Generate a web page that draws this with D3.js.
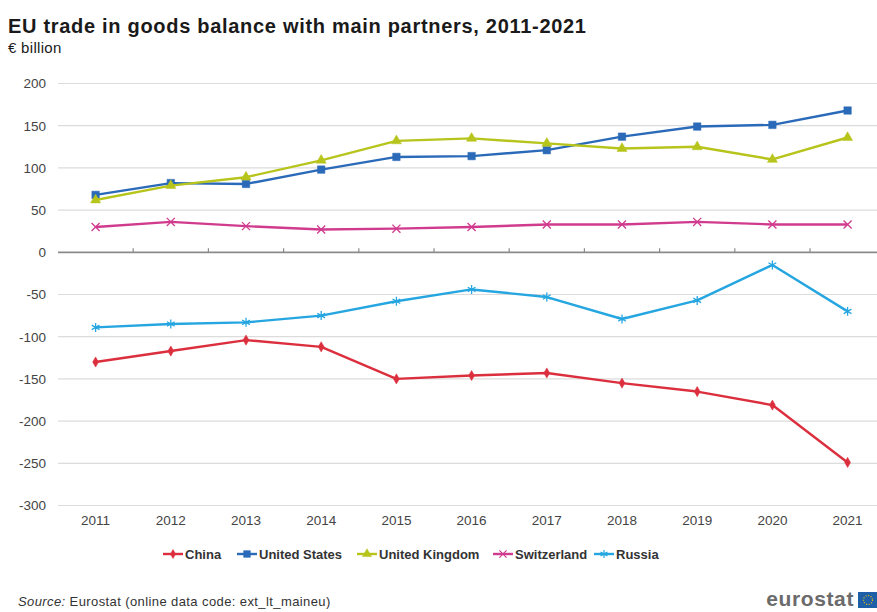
<!DOCTYPE html>
<html>
<head>
<meta charset="utf-8">
<script src="https://cdn.jsdelivr.net/npm/d3@7"></script>
<style>
  html, body { margin: 0; padding: 0; background: #fff; }
  svg { display: block; font-family: "Liberation Sans", Arial, sans-serif; }
</style>
</head>
<body>
<svg id="chart" width="877" height="612"></svg>
<script>
// Years on the category axis
const years = ["2011","2012","2013","2014","2015","2016","2017","2018","2019","2020","2021"];

// Trade in goods balance, € billion
const china       = [-130, -117, -104, -112, -150, -146, -143, -155, -165, -181, -249];
const unitedStates = [68, 82, 81, 98, 113, 114, 121, 137, 149, 151, 168];
const unitedKingdom = [62, 79, 89, 109, 132, 135, 129, 123, 125, 110, 136];
const switzerland = [30, 36, 31, 27, 28, 30, 33, 33, 36, 33, 33];
const russia      = [-89, -85, -83, -75, -58, -44, -53, -79, -57, -15, -70];

const yTicks = [200, 150, 100, 50, 0, -50, -100, -150, -200, -250, -300];

const seriesNames = ["China", "United States", "United Kingdom", "Switzerland", "Russia"];
const seriesValues = [china, unitedStates, unitedKingdom, switzerland, russia];
const seriesColors = ["#dc2f3e", "#2a6ab8", "#b7c41c", "#d03b8e", "#26a6e0"];

const svg = d3.select("#chart");

const x = d3.scaleBand().domain(years).range([58, 885.2]).padding(0);
const y = d3.scaleLinear().domain([-300, 200]).range([505.5, 83.5]);
const xc = d => x(d) + x.bandwidth() / 2;

// Title and unit
svg.append("text").attr("x", 8).attr("y", 33)
  .attr("font-size", 20).attr("font-weight", "bold").attr("fill", "#1a1a1a")
  .attr("letter-spacing", 0.7)
  .text("EU trade in goods balance with main partners, 2011-2021");
svg.append("text").attr("x", 8).attr("y", 53)
  .attr("font-size", 15).attr("fill", "#1a1a1a").attr("letter-spacing", 0.3)
  .text("€ billion");

// Horizontal gridlines
svg.append("g").selectAll("line").data(yTicks.filter(t => t !== 0)).join("line")
  .attr("x1", 58).attr("x2", 877)
  .attr("y1", d => y(d)).attr("y2", d => y(d))
  .attr("stroke", "#dcdcdc").attr("stroke-width", 1.2);

// Y-axis labels (plain hyphen for negatives)
const yAxis = d3.axisLeft(y).tickValues(yTicks).tickSize(0).tickPadding(0)
  .tickFormat(d => String(d));
const gy = svg.append("g").attr("transform", "translate(46,0)").call(yAxis);
gy.select(".domain").remove();
gy.selectAll("text").attr("font-size", 13.5).attr("fill", "#444")
  .attr("font-family", "Liberation Sans, Arial, sans-serif");

// Zero baseline with category boundary ticks
const gx0 = svg.append("g").attr("transform", `translate(0,${y(0)})`);
gx0.append("line").attr("x1", 58).attr("x2", 877)
  .attr("stroke", "#8a8a8a").attr("stroke-width", 1.8);
gx0.selectAll(".bnd").data(years.slice(1)).join("line").attr("class", "bnd")
  .attr("x1", d => x(d)).attr("x2", d => x(d))
  .attr("y1", 0).attr("y2", -4)
  .attr("stroke", "#8a8a8a").attr("stroke-width", 1.2);

// X-axis labels along the bottom
const gx = svg.append("g").attr("transform", "translate(0,512)")
  .call(d3.axisBottom(x).tickSize(0).tickPadding(3));
gx.select(".domain").remove();
gx.selectAll("text").attr("font-size", 13.5).attr("fill", "#444")
  .attr("font-family", "Liberation Sans, Arial, sans-serif");

// Marker shapes per series
const markers = [
  { type: d3.symbolDiamond, size: 30, fill: true },
  { type: d3.symbolSquare, size: 56, fill: true },
  { type: d3.symbolTriangle, size: 44, fill: true },
  { type: d3.symbolTimes, size: 44, fill: false },
  { type: d3.symbolAsterisk, size: 56, fill: false }
];

const line = d3.line().x((d, i) => xc(years[i])).y(d => y(d));

const plot = svg.append("g");
seriesValues.forEach((vals, si) => {
  const g = plot.append("g");
  g.append("path").datum(vals).attr("d", line)
    .attr("fill", "none").attr("stroke", seriesColors[si])
    .attr("stroke-width", 2.4).attr("stroke-linejoin", "round");
  const m = markers[si];
  const sym = d3.symbol().type(m.type).size(m.size);
  g.selectAll("path.mk").data(vals).join("path").attr("class", "mk")
    .attr("d", sym)
    .attr("transform", (d, i) => `translate(${xc(years[i])},${y(d)})`)
    .attr("fill", m.fill ? seriesColors[si] : "none")
    .attr("stroke", seriesColors[si])
    .attr("stroke-width", m.fill ? 0.5 : 1.3);
});

// Legend
const legendX = [163, 237, 357, 493, 594];
const lg = svg.append("g");
seriesNames.forEach((name, si) => {
  const lx = legendX[si], ly = 554;
  const g = lg.append("g");
  g.append("line").attr("x1", lx).attr("x2", lx + 20).attr("y1", ly).attr("y2", ly)
    .attr("stroke", seriesColors[si]).attr("stroke-width", 2.4);
  const m = markers[si];
  g.append("path").attr("d", d3.symbol().type(m.type).size(m.size * 0.8))
    .attr("transform", `translate(${lx + 10},${ly})`)
    .attr("fill", m.fill ? seriesColors[si] : "none")
    .attr("stroke", seriesColors[si]).attr("stroke-width", m.fill ? 0.5 : 1.2);
  g.append("text").attr("x", lx + 22).attr("y", ly + 4.5)
    .attr("font-size", 13).attr("font-weight", "bold").attr("fill", "#333")
    .text(name);
});

// Source note
const src = svg.append("text").attr("x", 18).attr("y", 606)
  .attr("font-size", 13).attr("fill", "#333").attr("letter-spacing", 0.4);
src.append("tspan").attr("font-style", "italic").text("Source:");
src.append("tspan").text(" Eurostat (online data code: ext_lt_maineu)");

// Eurostat wordmark
svg.append("text").attr("x", 854).attr("y", 606).attr("text-anchor", "end")
  .attr("font-size", 21).attr("font-weight", "bold").attr("fill", "#6b6b6b")
  .attr("letter-spacing", 0.6)
  .text("eurostat");
svg.append("rect").attr("x", 858).attr("y", 592).attr("width", 19).attr("height", 16)
  .attr("fill", "#1f5fa8");
svg.append("circle").attr("cx", 868).attr("cy", 600).attr("r", 4.5)
  .attr("fill", "none").attr("stroke", "#f2c500").attr("stroke-width", 1.2)
  .attr("stroke-dasharray", "1 1.6");
</script>
</body>
</html>
